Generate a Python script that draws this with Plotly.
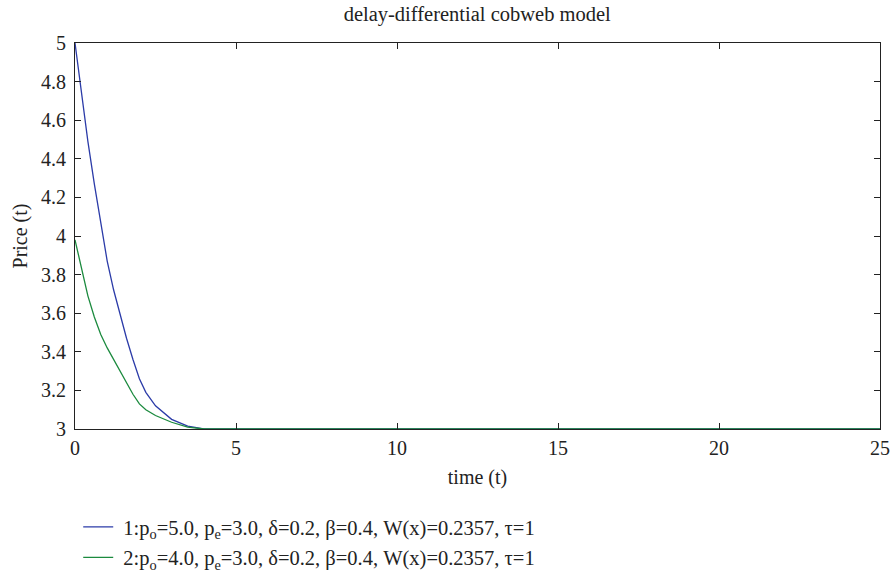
import plotly.graph_objects as go

t_vals = [0, 0.2, 0.4, 0.6, 0.8, 1.0, 1.2, 1.4, 1.6, 1.8, 2.0, 2.2, 2.5, 3.0, 3.5, 4.0, 25]
price_1 = [5.0, 4.73, 4.49, 4.27, 4.06, 3.87, 3.72, 3.59, 3.47, 3.36, 3.26, 3.19, 3.12, 3.05, 3.015, 3.0, 3.0]
price_2 = [3.98, 3.83, 3.69, 3.58, 3.49, 3.42, 3.36, 3.30, 3.24, 3.18, 3.13, 3.10, 3.07, 3.035, 3.01, 3.0, 3.0]

name_1 = "&nbsp;1:p<sub>o</sub>=5.0, p<sub>e</sub>=3.0, δ=0.2, β=0.4, W(x)=0.2357, τ=1"
name_2 = "&nbsp;2:p<sub>o</sub>=4.0, p<sub>e</sub>=3.0, δ=0.2, β=0.4, W(x)=0.2357, τ=1"

x_ticks = [0, 5, 10, 15, 20, 25]
y_ticks = [3, 3.2, 3.4, 3.6, 3.8, 4, 4.2, 4.4, 4.6, 4.8, 5]

fig = go.Figure()
fig.add_trace(go.Scatter(x=t_vals, y=price_1, mode="lines", name=name_1, legendgroup="g1",
                         line=dict(color="#2B3BA8", width=1.3)))
fig.add_trace(go.Scatter(x=t_vals, y=price_2, mode="lines", name=name_2, legendgroup="g2",
                         line=dict(color="#1B8A3E", width=1.3)))

font_family = "Liberation Serif, Times New Roman, serif"
axis_common = dict(showgrid=False, zeroline=False, showline=True, linecolor="#222",
                   linewidth=1, mirror="ticks", ticks="inside", ticklen=6,
                   tickcolor="#222", automargin=False,
                   tickfont=dict(family=font_family, size=20, color="#222"))

fig.update_layout(
    width=892, height=573,
    margin=dict(l=75, r=12, t=43, b=144),
    paper_bgcolor="white", plot_bgcolor="white",
    font=dict(family=font_family, size=20, color="#222"),
    title=dict(text="delay-differential cobweb model", x=0.535, xanchor="center",
               xref="container", y=1 - 14 / 573, yanchor="middle", yref="container",
               font=dict(family=font_family, size=20.5, color="#222")),
    xaxis=dict(range=[0, 25], tickvals=x_ticks, ticklabelstandoff=1,
               title=dict(text="time (t)", standoff=11,
                          font=dict(family=font_family, size=20)), **axis_common),
    yaxis=dict(range=[3, 5], tickvals=y_ticks, ticklabelstandoff=4,
               title=dict(text="Price (t)", standoff=8,
                          font=dict(family=font_family, size=20)), **axis_common),
    legend=dict(x=0.004, xanchor="left", xref="paper",
                y=1 - 507 / 573, yanchor="top", yref="container",
                font=dict(family=font_family, size=20.5, color="#222"),
                bgcolor="rgba(0,0,0,0)", tracegroupgap=1, itemwidth=30),
    showlegend=True,
)

fig.write_html("out.html")
